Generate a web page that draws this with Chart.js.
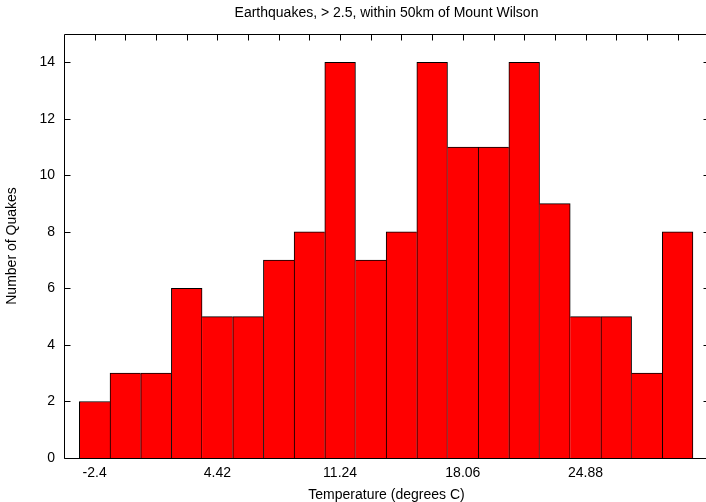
<!DOCTYPE html>
<html><head><meta charset="utf-8">
<script src="https://cdn.jsdelivr.net/npm/chart.js@4.4.1/dist/chart.umd.min.js"></script>
<style>
html,body{margin:0;padding:0;overflow:hidden;background:#fff;width:706px;height:502px}
#wrap{width:712px;height:502px}
canvas{display:block}
</style>
</head><body><div id="wrap"><canvas id="c" width="712" height="502" style="width:712px;height:502px"></canvas></div>
<script>
const binCenters = [-2.4, -0.695, 1.01, 2.715, 4.42, 6.125, 7.83, 9.535, 11.24, 12.945, 14.65, 16.355, 18.06, 19.765, 21.47, 23.175, 24.88, 26.585, 28.29, 29.995];
const quakeCounts = [2, 3, 3, 6, 5, 5, 7, 8, 14, 7, 8, 14, 11, 11, 14, 9, 5, 5, 3, 8];
const xTickValues = [-2.4, 4.42, 11.24, 18.06, 24.88];
const xTickLabels = ['-2.4', '4.42', '11.24', '18.06', '24.88'];
const yTickValues = [0, 2, 4, 6, 8, 10, 12, 14];
const yTickLabels = ['0', '2', '4', '6', '8', '10', '12', '14'];

Chart.defaults.font.family = "'Liberation Sans', Arial, Helvetica, sans-serif";
Chart.defaults.font.size = 14;
Chart.defaults.color = '#000';

const framePlugin = {
  id: 'frame',
  afterDatasetsDraw(chart) {
    const {ctx, chartArea, scales} = chart;
    const x = scales.x, y = scales.y;
    const L = Math.round(chartArea.left) + 0.5;
    const R = Math.round(chartArea.right) + 0.5;
    const T = Math.round(chartArea.top) + 0.5;
    const B = Math.round(chartArea.bottom) + 0.5;
    ctx.save();
    ctx.strokeStyle = '#000';
    ctx.lineWidth = 1;
    ctx.beginPath();
    ctx.rect(L, T, R - L, B - T);
    yTickValues.forEach(v => {
      const py = Math.round(y.getPixelForValue(v)) + 0.5;
      ctx.moveTo(L, py); ctx.lineTo(L + 6, py);
      ctx.moveTo(R, py); ctx.lineTo(R - 6, py);
    });
    binCenters.forEach(v => {
      const px = Math.round(x.getPixelForValue(v)) + 0.5;
      ctx.moveTo(px, T); ctx.lineTo(px, T + 6);
    });
    ctx.stroke();
    ctx.restore();
  }
};

function edgeWidths(c) {
  const i = c.dataIndex;
  const h = quakeCounts[i];
  const prev = i > 0 ? quakeCounts[i - 1] : -1;
  const next = i < quakeCounts.length - 1 ? quakeCounts[i + 1] : -1;
  return {top: 1, bottom: 0, left: h >= prev ? 1 : 0, right: h > next ? 1 : 0};
}

new Chart(document.getElementById('c'), {
  type: 'bar',
  data: {
    datasets: [{
      data: binCenters.map((v, i) => ({x: v, y: quakeCounts[i]})),
      backgroundColor: '#ff0000',
      borderColor: '#000',
      borderWidth: edgeWidths,
      borderSkipped: false,
      barPercentage: 1,
      categoryPercentage: 1
    }]
  },
  options: {
    responsive: false,
    animation: false,
    devicePixelRatio: 1,
    layout: {padding: {left: 0, right: 3, top: 0, bottom: 0}},
    plugins: {
      legend: {display: false},
      tooltip: {enabled: false},
      title: {
        display: true,
        fullSize: false,
        text: 'Earthquakes, > 2.5, within 50km of Mount Wilson',
        color: '#000',
        font: {size: 14, weight: 'normal'},
        padding: {top: 5, bottom: 12.2}
      }
    },
    scales: {
      x: {
        type: 'linear',
        min: -4.105,
        max: 31.74,
        offset: false,
        grid: {display: false, drawTicks: false},
        border: {display: false},
        afterBuildTicks: s => { s.ticks = xTickValues.map(v => ({value: v})); },
        ticks: {padding: 7, autoSkip: false, maxRotation: 0, callback: (v, i) => xTickLabels[i]},
        title: {display: true, text: 'Temperature (degrees C)', padding: {top: 0, bottom: -2}},
        afterFit: s => { s.height = 44; }
      },
      y: {
        min: 0,
        max: 15,
        grid: {display: false, drawTicks: false},
        border: {display: false},
        afterBuildTicks: s => { s.ticks = yTickValues.map(v => ({value: v})); },
        ticks: {padding: 9, callback: (v, i) => yTickLabels[i]},
        title: {display: true, text: 'Number of Quakes', padding: {top: 4, bottom: 0}},
        afterFit: s => { s.width = 64; }
      }
    }
  },
  plugins: [framePlugin]
});
</script>
</body></html>
